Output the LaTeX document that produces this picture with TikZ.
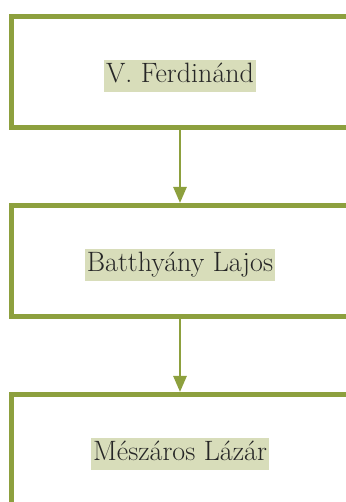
\documentclass[tikz,border=0pt]{standalone}
\usepackage{fontspec}
\usepackage{xcolor}
\definecolor{olive}{rgb}{0.553, 0.627, 0.243}
\definecolor{oliveLight}{rgb}{0.847, 0.867, 0.729}
\usepackage{tikz}
\usetikzlibrary{positioning}
\usetikzlibrary{arrows.meta}

\begin{document}
\begin{tikzpicture}[x=1pt, y=1pt,
			box/.style={draw=olive, rectangle, line width=5pt, fill=white, minimum width=337pt, minimum height=111pt},
			label/.style={fill=oliveLight, inner sep=2pt, text=black!85, text height=21pt, text depth=7pt, yshift=-4pt, font=\fontsize{28}{32}\selectfont},
			arrowStrong/.style={draw=olive, line width=2.6pt, -{Triangle[length=16pt, width=13pt]}},
			]
			\useasboundingbox (0,0) rectangle (345,502);
			
			% boxes
			\draw node[box] (box1) at (180,430) {};
			\draw node[box][below=73pt of box1] (box2) {};
			\draw node[box][below=73pt of box2] (box3) {};
			
			% names
			\draw node[label] (name1) at (box1.center) {V. Ferdinánd};
			\draw node[label] (name2) at (box2.center) {Batthyány Lajos};
			\draw node[label] (name3) at (box3.center) {Mészáros Lázár};
			
			% Arrow
			\draw [arrowStrong] (box1.south) -- (box2.north);
			\draw [arrowStrong] (box2.south) -- (box3.north);
			
		\end{tikzpicture}
\end{document}
